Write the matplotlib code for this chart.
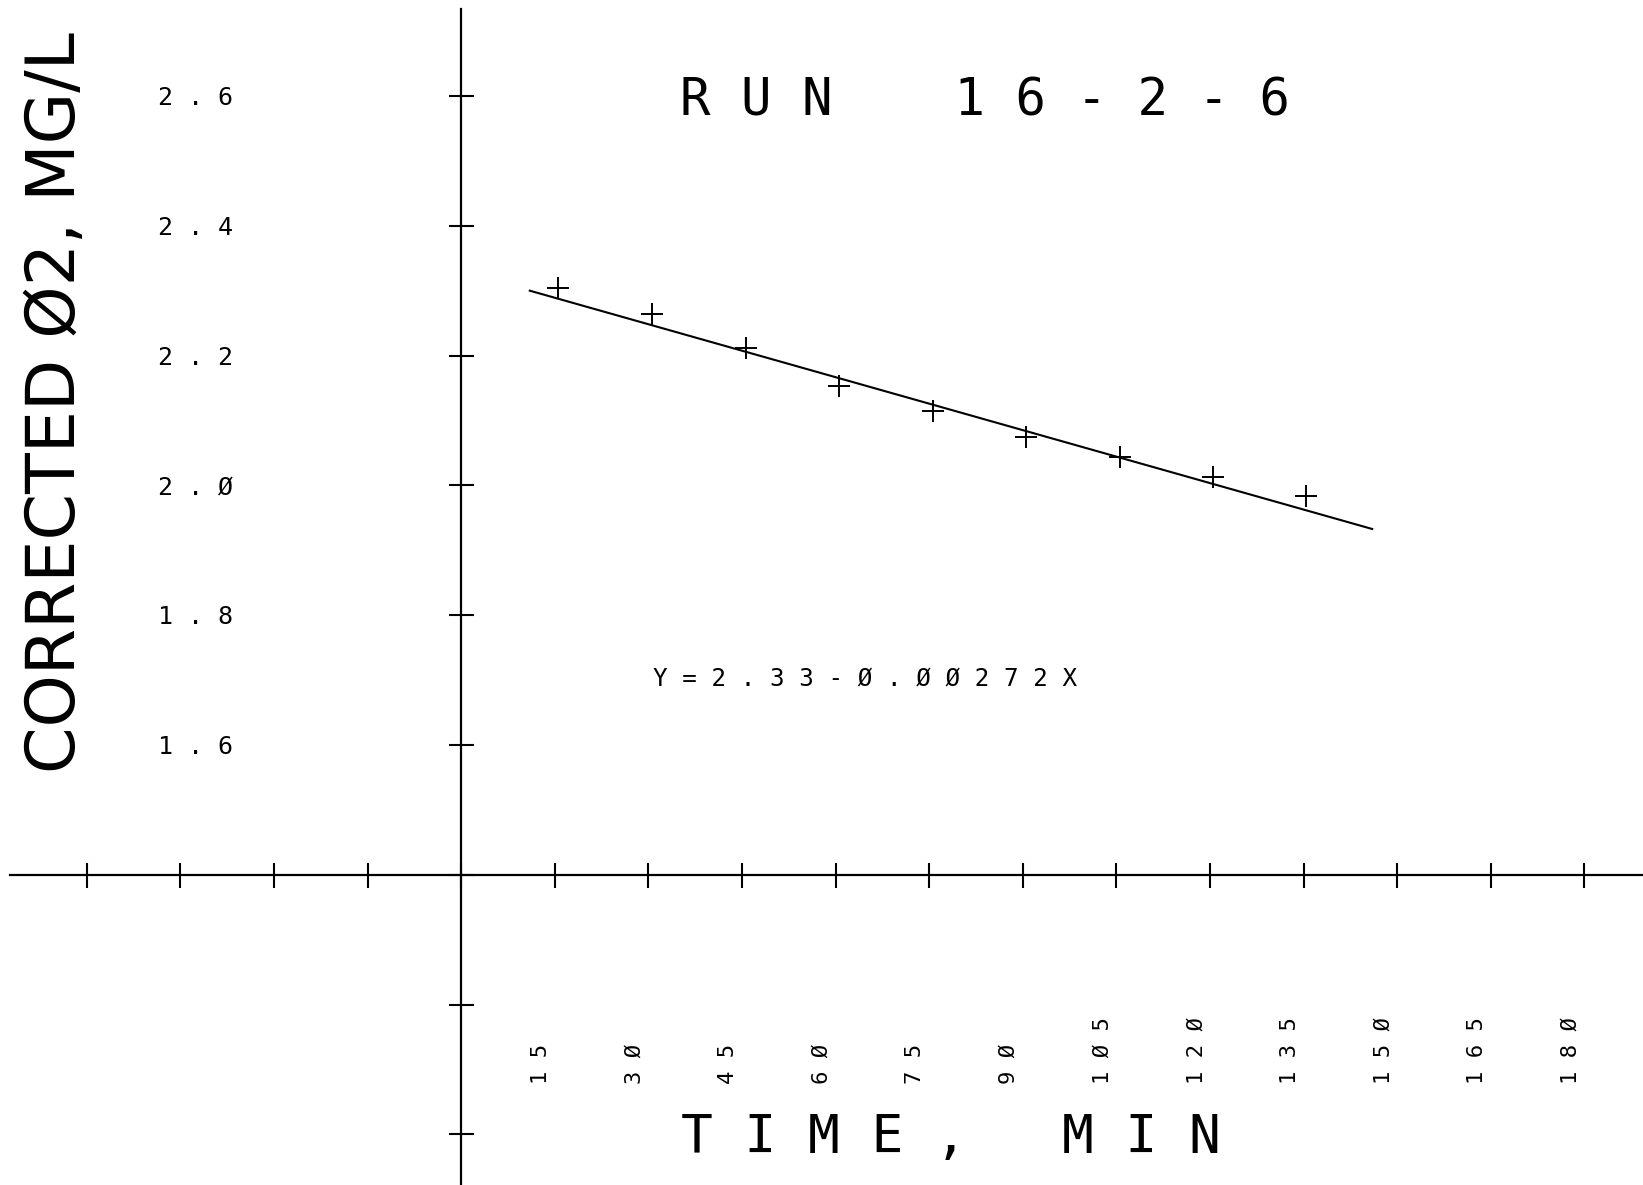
#!/usr/bin/env python
""" Redraws the pen plotter chart of corrected O2 against time for run 16-2-6. """

import matplotlib
matplotlib.use("Agg")
import matplotlib.pyplot as plt

# Measured points
time_min = [15.5, 30.6, 45.7, 60.6, 75.6, 90.5, 105.6, 120.5, 135.4]
o2_mg_l = [2.304, 2.264, 2.212, 2.153, 2.115, 2.075, 2.044, 2.013, 1.984]

# Least squares line as printed on the chart
fit_intercept = 2.33
fit_slope = -0.00272
fit_range = [11.0, 146.0]

# Axis ticks and their labels (the plotter draws zero as a slashed zero)
x_ticks = [-60, -45, -30, -15, 0, 15, 30, 45, 60, 75, 90, 105, 120, 135, 150, 165, 180]
x_tick_vals = [15, 30, 45, 60, 75, 90, 105, 120, 135, 150, 165, 180]
x_tick_labels = ["15", "3Ø", "45", "6Ø", "75", "9Ø", "1Ø5", "12Ø", "135", "15Ø", "165", "18Ø"]
y_ticks = [1.0, 1.2, 1.4, 1.6, 1.8, 2.0, 2.2, 2.4, 2.6]
y_tick_vals = [1.6, 1.8, 2.0, 2.2, 2.4, 2.6]
y_tick_labels = ["1.6", "1.8", "2.Ø", "2.2", "2.4", "2.6"]

title = "RUN   16-2-6"
x_label = "TIME,  MIN"
y_label = "CORRECTED Ø2, MG/L"
equation = "Y=2.33-Ø.ØØ272X"

MONO = "DejaVu Sans Mono"


def spaced(text):
    """
    Puts a space after every character, like the wide pitch of the plotter font.
    Runs of spaces are kept as they are.
    """
    out = ""
    for ch in text:
        out += ch if ch == " " else ch + " "
    return out.rstrip()


def main():
    fig = plt.figure(figsize=(16.43, 11.85), dpi=100)
    ax = fig.add_axes([0, 0, 1, 1])
    ax.set_xlim(-73.9, 189.4)
    ax.set_ylim(0.922, 2.748)

    # Axes cross at (0, 1.4), like the original plot
    for side in ["top", "right"]:
        ax.spines[side].set_visible(False)
    ax.spines["left"].set_position(("data", 0))
    ax.spines["bottom"].set_position(("data", 1.4))
    ax.spines["left"].set_bounds(0.922, 2.734)
    ax.spines["bottom"].set_bounds(-72.3, 189.4)
    for side in ["left", "bottom"]:
        ax.spines[side].set_linewidth(1.6)

    ax.set_xticks(x_ticks)
    ax.set_yticks(y_ticks)
    ax.tick_params(direction="inout", length=18, width=1.5,
                   labelbottom=False, labelleft=False)

    # Data and fitted line
    ax.plot(time_min, o2_mg_l, linestyle="none", marker="+", markersize=16,
            markeredgewidth=1.4, color="black")
    fit_y = [fit_intercept + fit_slope * x for x in fit_range]
    ax.plot(fit_range, fit_y, color="black", linewidth=1.5)

    # Tick labels written by hand, as the plotter did
    for x, lab in zip(x_tick_vals, x_tick_labels):
        ax.text(x - 2.2, 1.078, spaced(lab), rotation=90, ha="center", va="bottom",
                family=MONO, fontsize=16)
    for y, lab in zip(y_tick_vals, y_tick_labels):
        ax.text(-42.5, y - 0.014, spaced(lab), ha="center", va="baseline",
                family=MONO, fontsize=18)

    ax.text(84.0, 2.5695, spaced(title), ha="center", va="baseline",
            family=MONO, fontsize=36.5)
    ax.text(78.5, 0.9716, spaced(x_label), ha="center", va="baseline",
            family=MONO, fontsize=38)
    ax.text(-65.0, 2.128, y_label, rotation=90, ha="center", va="center",
            family="DejaVu Sans", fontsize=48)
    ax.text(64.8, 1.691, spaced(equation), ha="center", va="baseline",
            family=MONO, fontsize=17.5)

    fig.savefig("out.png", dpi=100)


if __name__ == "__main__":
    main()
